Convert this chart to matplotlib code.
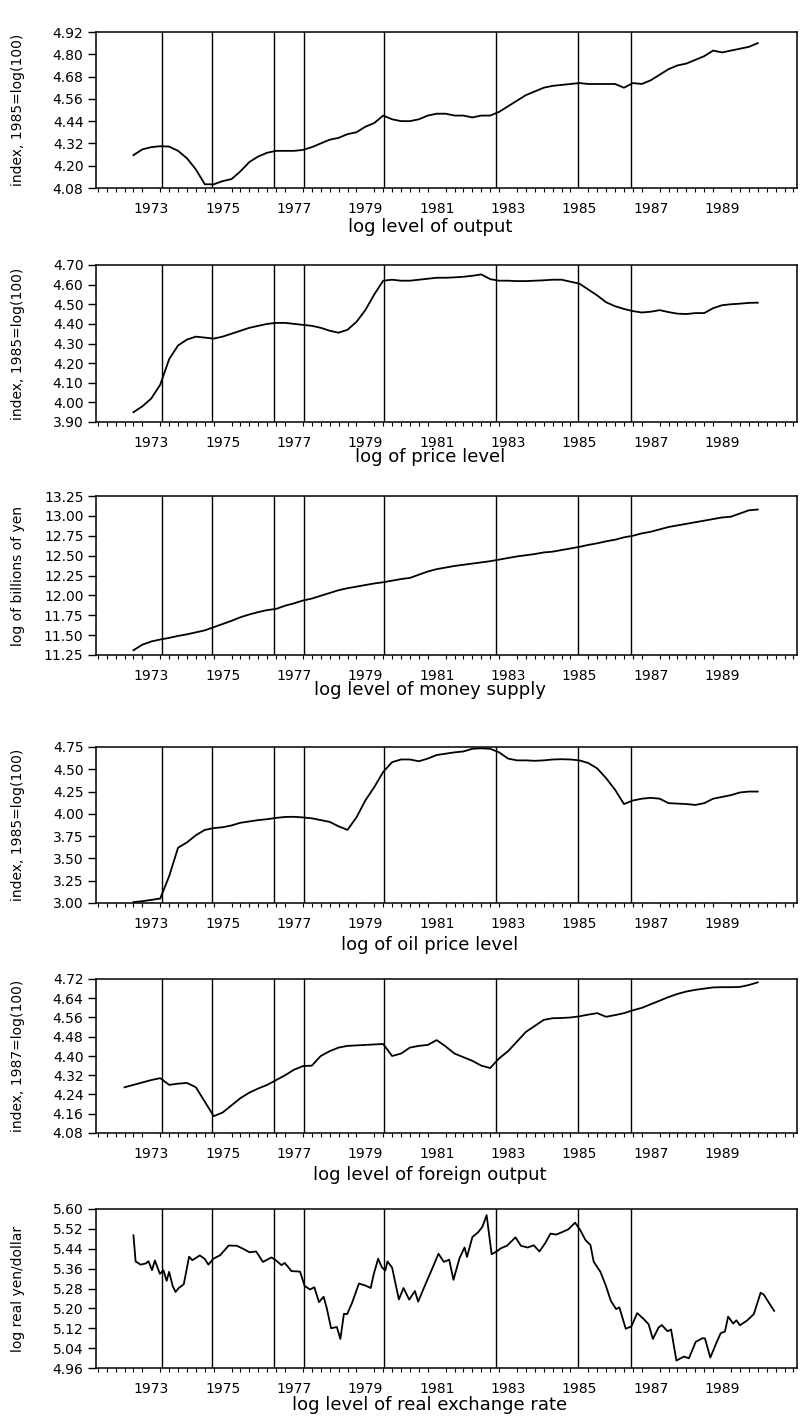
import numpy as np
import matplotlib
matplotlib.use("Agg")
import matplotlib.pyplot as plt
from matplotlib.ticker import FixedLocator, MultipleLocator

# ---------------- data ----------------
regime_dates = [1973.8, 1975.2, 1976.95, 1977.78, 1980.02, 1983.15, 1985.45, 1986.95]
year_labels = ["1973", "1975", "1977", "1979", "1981", "1983", "1985", "1987", "1989"]
year_label_pos = [1973.5, 1975.5, 1977.5, 1979.5, 1981.5, 1983.5, 1985.5, 1987.5, 1989.5]

# quarterly series (start year, values)
output_start = 1973.0
output_vals = [4.257, 4.288, 4.30, 4.305, 4.303, 4.28, 4.24, 4.18, 4.10, 4.10, 4.117, 4.128,
               4.17, 4.22, 4.25, 4.27, 4.28, 4.28, 4.28, 4.285, 4.30, 4.32, 4.34, 4.35,
               4.37, 4.38, 4.41, 4.43, 4.47, 4.45, 4.44, 4.44, 4.45, 4.47, 4.48, 4.48,
               4.47, 4.47, 4.46, 4.47, 4.47, 4.49, 4.52, 4.55, 4.58, 4.60, 4.62, 4.63,
               4.635, 4.64, 4.645, 4.64, 4.64, 4.64, 4.64, 4.62, 4.645, 4.64, 4.66, 4.69,
               4.72, 4.74, 4.75, 4.77, 4.79, 4.82, 4.81, 4.82, 4.83, 4.84, 4.86]

price_start = 1973.0
price_vals = [3.95, 3.98, 4.02, 4.09, 4.22, 4.29, 4.32, 4.335, 4.33, 4.325, 4.335, 4.35,
              4.365, 4.38, 4.39, 4.40, 4.405, 4.405, 4.40, 4.395, 4.39, 4.38, 4.365, 4.355,
              4.37, 4.41, 4.47, 4.55, 4.62, 4.625, 4.62, 4.62, 4.625, 4.63, 4.635, 4.635,
              4.637, 4.64, 4.645, 4.652, 4.628, 4.62, 4.62, 4.618, 4.618, 4.62, 4.622, 4.625,
              4.625, 4.615, 4.605, 4.575, 4.545, 4.51, 4.49, 4.476, 4.465, 4.458, 4.462, 4.47,
              4.46, 4.452, 4.45, 4.455, 4.455, 4.48, 4.495, 4.50, 4.503, 4.507, 4.508]

money_start = 1973.0
money_vals = [11.31, 11.38, 11.42, 11.445, 11.465, 11.49, 11.51, 11.535, 11.56, 11.60, 11.64, 11.68,
              11.725, 11.76, 11.79, 11.815, 11.83, 11.87, 11.90, 11.935, 11.96, 11.995, 12.03, 12.065,
              12.09, 12.11, 12.13, 12.15, 12.165, 12.185, 12.205, 12.22, 12.26, 12.30, 12.33, 12.35,
              12.37, 12.385, 12.40, 12.415, 12.43, 12.45, 12.47, 12.49, 12.505, 12.52, 12.54, 12.55,
              12.57, 12.59, 12.61, 12.635, 12.655, 12.68, 12.70, 12.73, 12.75, 12.78, 12.80, 12.83,
              12.86, 12.88, 12.90, 12.92, 12.94, 12.96, 12.98, 12.99, 13.03, 13.07, 13.08]

oil_start = 1973.0
oil_vals = [3.01, 3.02, 3.035, 3.05, 3.30, 3.62, 3.68, 3.76, 3.82, 3.84, 3.85, 3.87,
            3.90, 3.915, 3.93, 3.94, 3.955, 3.965, 3.967, 3.96, 3.95, 3.93, 3.91, 3.86,
            3.82, 3.96, 4.15, 4.30, 4.47, 4.58, 4.61, 4.61, 4.59, 4.62, 4.66, 4.675,
            4.69, 4.70, 4.73, 4.735, 4.73, 4.69, 4.62, 4.60, 4.60, 4.595, 4.60, 4.61,
            4.613, 4.61, 4.60, 4.57, 4.51, 4.40, 4.27, 4.11, 4.15, 4.17, 4.18, 4.17,
            4.12, 4.115, 4.11, 4.10, 4.12, 4.17, 4.19, 4.21, 4.24, 4.25, 4.25]

foreign_start = 1972.75
foreign_vals = [4.27, 4.28, 4.29, 4.30, 4.308, 4.28, 4.285, 4.288, 4.27, 4.21, 4.15, 4.165,
                4.195, 4.225, 4.248, 4.265, 4.28, 4.30, 4.32, 4.343, 4.358, 4.36, 4.40, 4.42,
                4.435, 4.442, 4.444, 4.446, 4.448, 4.45, 4.40, 4.41, 4.435, 4.442, 4.446, 4.466,
                4.44, 4.41, 4.395, 4.38, 4.36, 4.35, 4.39, 4.42, 4.46, 4.50, 4.525, 4.55,
                4.557, 4.558, 4.56, 4.565, 4.572, 4.578, 4.563, 4.57, 4.578, 4.59, 4.60, 4.615,
                4.63, 4.645, 4.658, 4.668, 4.675, 4.68, 4.685, 4.686, 4.686, 4.687, 4.695, 4.706]

exch_dates = [1973.0, 1973.06, 1973.2, 1973.35, 1973.42, 1973.52, 1973.6, 1973.74, 1973.84, 1973.93,
              1974.0, 1974.1, 1974.18, 1974.27, 1974.41, 1974.56, 1974.65, 1974.86, 1975.0, 1975.1,
              1975.24, 1975.43, 1975.67, 1975.9, 1976.1, 1976.25, 1976.44, 1976.63, 1976.87, 1976.98,
              1977.15, 1977.24, 1977.43, 1977.67, 1977.8, 1977.95, 1978.07, 1978.2, 1978.33, 1978.42,
              1978.54, 1978.7, 1978.8, 1978.9, 1978.99, 1979.13, 1979.32, 1979.5, 1979.65, 1979.74,
              1979.86, 1979.96, 1980.06, 1980.12, 1980.25, 1980.44, 1980.57, 1980.73, 1980.89, 1980.98,
              1981.17, 1981.39, 1981.55, 1981.7, 1981.85, 1981.97, 1982.14, 1982.28, 1982.35, 1982.5,
              1982.66, 1982.78, 1982.9, 1983.04, 1983.19, 1983.3, 1983.47, 1983.71, 1983.86, 1984.05,
              1984.22, 1984.38, 1984.54, 1984.69, 1984.85, 1985.0, 1985.19, 1985.38, 1985.52, 1985.67,
              1985.81, 1985.9, 1986.09, 1986.24, 1986.38, 1986.53, 1986.62, 1986.8, 1986.96, 1987.12,
              1987.29, 1987.44, 1987.56, 1987.72, 1987.81, 1987.97, 1988.07, 1988.22, 1988.43, 1988.57,
              1988.76, 1988.95, 1989.02, 1989.17, 1989.34, 1989.46, 1989.58, 1989.67, 1989.81, 1989.9,
              1990.0, 1990.2, 1990.39, 1990.58, 1990.67, 1990.82, 1990.96]
exch_vals = [5.494, 5.389, 5.376, 5.381, 5.39, 5.354, 5.393, 5.339, 5.353, 5.311,
             5.347, 5.29, 5.266, 5.282, 5.297, 5.408, 5.394, 5.413, 5.399, 5.376,
             5.40, 5.414, 5.453, 5.452, 5.438, 5.426, 5.429, 5.387, 5.405, 5.395,
             5.374, 5.383, 5.35, 5.348, 5.29, 5.276, 5.285, 5.225, 5.247, 5.20,
             5.12, 5.125, 5.077, 5.178, 5.177, 5.223, 5.30, 5.292, 5.282, 5.34,
             5.40, 5.366, 5.352, 5.389, 5.364, 5.236, 5.282, 5.235, 5.27, 5.227,
             5.292, 5.365, 5.42, 5.387, 5.396, 5.315, 5.402, 5.445, 5.407, 5.487,
             5.506, 5.528, 5.575, 5.418, 5.43, 5.442, 5.452, 5.486, 5.452, 5.445,
             5.454, 5.429, 5.462, 5.501, 5.497, 5.506, 5.518, 5.545, 5.516, 5.475,
             5.455, 5.388, 5.347, 5.292, 5.231, 5.197, 5.204, 5.118, 5.128, 5.181,
             5.159, 5.136, 5.077, 5.123, 5.133, 5.108, 5.115, 4.99, 5.006, 4.999,
             5.065, 5.08, 5.079, 5.002, 5.061, 5.10, 5.107, 5.167, 5.139, 5.152,
             5.132, 5.151, 5.177, 5.263, 5.255, 5.221, 5.19]

output_ticks = [4.08, 4.20, 4.32, 4.44, 4.56, 4.68, 4.80, 4.92]
price_ticks = [3.90, 4.00, 4.10, 4.20, 4.30, 4.40, 4.50, 4.60, 4.70]
money_ticks = [11.25, 11.50, 11.75, 12.00, 12.25, 12.50, 12.75, 13.00, 13.25]
oil_ticks = [3.00, 3.25, 3.50, 3.75, 4.00, 4.25, 4.50, 4.75]
foreign_ticks = [4.08, 4.16, 4.24, 4.32, 4.40, 4.48, 4.56, 4.64, 4.72]
exch_ticks = [4.96, 5.04, 5.12, 5.20, 5.28, 5.36, 5.44, 5.52, 5.60]

titles = ["log level of output", "log of price level", "log level of money supply",
          "log of oil price level", "log level of foreign output", "log level of real exchange rate"]
ylabels = ["index, 1985=log(100)", "index, 1985=log(100)", "log of billions of yen",
           "index, 1985=log(100)", "index, 1987=log(100)", "log real yen/dollar"]

# ---------------- figure ----------------
W, H = 805, 1421
fig = plt.figure(figsize=(W / 100, H / 100), dpi=100)
fig.patch.set_facecolor("white")

# panel pixel boxes (top, bottom), left/right
boxes = [(32, 188), (265, 422), (496, 655), (747, 903), (979, 1133), (1209, 1368)]
title_y = [227, 457, 690, 945, 1175, 1405]
left_px, right_px = 96, 797

def q_dates(start, vals):
    return start + 0.25 * np.arange(len(vals))

series = [
    (q_dates(output_start, output_vals), output_vals, output_ticks),
    (q_dates(price_start, price_vals), price_vals, price_ticks),
    (q_dates(money_start, money_vals), money_vals, money_ticks),
    (q_dates(oil_start, oil_vals), oil_vals, oil_ticks),
    (q_dates(foreign_start, foreign_vals), foreign_vals, foreign_ticks),
    (np.array(exch_dates), exch_vals, exch_ticks),
]

for i, ((x, y, ticks), (top, bot)) in enumerate(zip(series, boxes)):
    ax = fig.add_axes([left_px / W, 1 - bot / H, (right_px - left_px) / W, (bot - top) / H])
    ax.plot(x, y, color="black", lw=1.3)
    for d in regime_dates:
        ax.axvline(d, color="black", lw=1.0)
    ax.set_xlim(1971.95, 1991.6)
    ax.set_ylim(ticks[0], ticks[-1])
    ax.set_yticks(ticks)
    ax.set_yticklabels([f"{t:.2f}" for t in ticks], fontsize=10)
    ax.xaxis.set_major_locator(FixedLocator(year_label_pos))
    ax.set_xticklabels(year_labels, fontsize=10)
    ax.xaxis.set_minor_locator(MultipleLocator(0.25))
    ax.tick_params(axis="x", which="major", length=0, pad=10)
    ax.tick_params(axis="x", which="minor", length=3, width=0.8, direction="out")
    ax.tick_params(axis="y", which="major", length=6, width=1.0, direction="out", pad=3)
    for s in ax.spines.values():
        s.set_linewidth(1.1)
    fig.text(430 / W, 1 - title_y[i] / H, titles[i], ha="center", va="center", fontsize=13)
    fig.text(18 / W, 1 - ((top + bot) / 2) / H, ylabels[i], rotation=90,
             ha="center", va="center", fontsize=10)

fig.savefig("out.png", dpi=100, facecolor="white")
